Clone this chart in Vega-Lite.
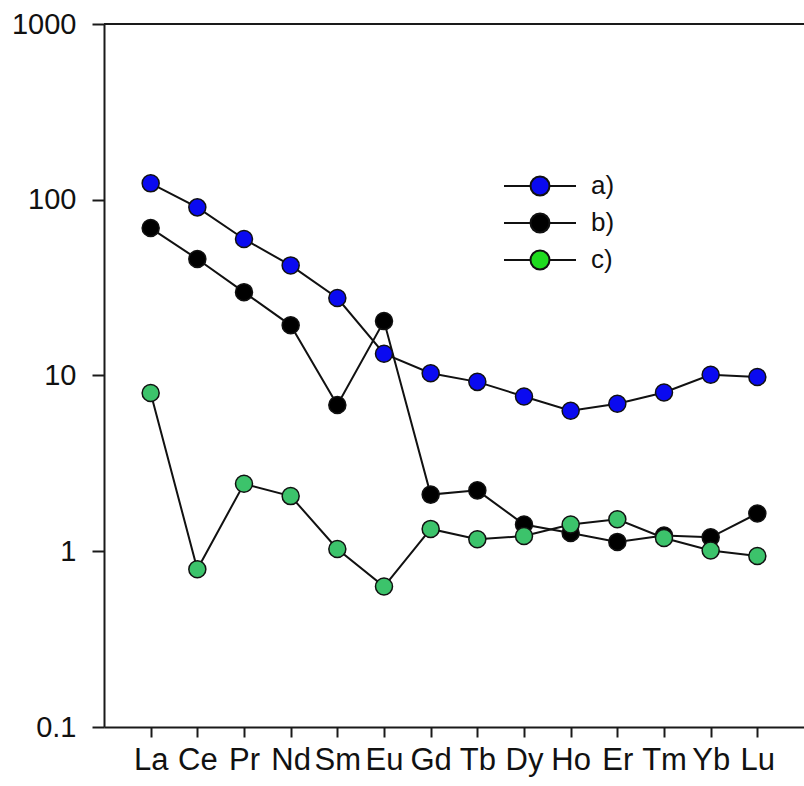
{
  "$schema": "https://vega.github.io/schema/vega-lite/v6.json",
  "width": 700,
  "height": 703,
  "autosize": {"type": "none"},
  "padding": {"left": 104, "top": 24, "right": 0, "bottom": 59},
  "background": "white",
  "config": {
    "view": {"stroke": null},
    "font": "Liberation Sans",
    "axis": {"grid": false, "domainColor": "#1a1a1a", "domainWidth": 2, "tickColor": "#1a1a1a", "tickWidth": 2, "labelColor": "#111", "labelFont": "Liberation Sans", "title": null}
  },
  "data": {
    "values": [
      {"el": "La", "i": 0, "s": "a)", "v": 124},
      {"el": "Ce", "i": 1, "s": "a)", "v": 90.5},
      {"el": "Pr", "i": 2, "s": "a)", "v": 59.8},
      {"el": "Nd", "i": 3, "s": "a)", "v": 42.3},
      {"el": "Sm", "i": 4, "s": "a)", "v": 27.6},
      {"el": "Eu", "i": 5, "s": "a)", "v": 13.3},
      {"el": "Gd", "i": 6, "s": "a)", "v": 10.3},
      {"el": "Tb", "i": 7, "s": "a)", "v": 9.2},
      {"el": "Dy", "i": 8, "s": "a)", "v": 7.6},
      {"el": "Ho", "i": 9, "s": "a)", "v": 6.3},
      {"el": "Er", "i": 10, "s": "a)", "v": 6.9},
      {"el": "Tm", "i": 11, "s": "a)", "v": 8.0},
      {"el": "Yb", "i": 12, "s": "a)", "v": 10.1},
      {"el": "Lu", "i": 13, "s": "a)", "v": 9.8},
      {"el": "La", "i": 0, "s": "b)", "v": 69},
      {"el": "Ce", "i": 1, "s": "b)", "v": 46},
      {"el": "Pr", "i": 2, "s": "b)", "v": 29.8},
      {"el": "Nd", "i": 3, "s": "b)", "v": 19.3},
      {"el": "Sm", "i": 4, "s": "b)", "v": 6.8},
      {"el": "Eu", "i": 5, "s": "b)", "v": 20.4},
      {"el": "Gd", "i": 6, "s": "b)", "v": 2.1},
      {"el": "Tb", "i": 7, "s": "b)", "v": 2.22},
      {"el": "Dy", "i": 8, "s": "b)", "v": 1.42},
      {"el": "Ho", "i": 9, "s": "b)", "v": 1.27},
      {"el": "Er", "i": 10, "s": "b)", "v": 1.13},
      {"el": "Tm", "i": 11, "s": "b)", "v": 1.23},
      {"el": "Yb", "i": 12, "s": "b)", "v": 1.2},
      {"el": "Lu", "i": 13, "s": "b)", "v": 1.64},
      {"el": "La", "i": 0, "s": "c)", "v": 7.95},
      {"el": "Ce", "i": 1, "s": "c)", "v": 0.79},
      {"el": "Pr", "i": 2, "s": "c)", "v": 2.42},
      {"el": "Nd", "i": 3, "s": "c)", "v": 2.06},
      {"el": "Sm", "i": 4, "s": "c)", "v": 1.03},
      {"el": "Eu", "i": 5, "s": "c)", "v": 0.63},
      {"el": "Gd", "i": 6, "s": "c)", "v": 1.34},
      {"el": "Tb", "i": 7, "s": "c)", "v": 1.17},
      {"el": "Dy", "i": 8, "s": "c)", "v": 1.22},
      {"el": "Ho", "i": 9, "s": "c)", "v": 1.42},
      {"el": "Er", "i": 10, "s": "c)", "v": 1.52},
      {"el": "Tm", "i": 11, "s": "c)", "v": 1.19},
      {"el": "Yb", "i": 12, "s": "c)", "v": 1.01},
      {"el": "Lu", "i": 13, "s": "c)", "v": 0.94}
    ]
  },
  "encoding": {
    "x": {
      "field": "el", "type": "nominal",
      "sort": ["La","Ce","Pr","Nd","Sm","Eu","Gd","Tb","Dy","Ho","Er","Tm","Yb","Lu"],
      "scale": {"type": "point", "padding": 1},
      "axis": {"labelAngle": 0, "tickSize": 10, "labelPadding": 8, "labelFontSize": 31}
    },
    "y": {
      "field": "v", "type": "quantitative",
      "scale": {"type": "log", "domain": [0.1, 1000], "nice": false},
      "axis": {"values": [0.1, 1, 10, 100, 1000], "format": "~g", "tickSize": 12, "labelPadding": 16, "labelFontSize": 29}
    }
  },
  "resolve": {"scale": {"fill": "independent"}, "legend": {"fill": "independent"}},
  "layer": [
    {
      "mark": {"type": "rule", "color": "#1a1a1a", "strokeWidth": 2},
      "encoding": {"y": {"datum": 1000}, "x": null}
    },
    {
      "mark": {"type": "line", "color": "#111", "strokeWidth": 2},
      "encoding": {
        "detail": {"field": "s"},
        "order": {"field": "i"}
      }
    },
    {
      "mark": {"type": "point", "filled": true, "size": 290, "stroke": "#111", "strokeWidth": 1.5, "opacity": 1},
      "encoding": {
        "fill": {
          "field": "s", "type": "nominal",
          "scale": {"domain": ["a)", "b)", "c)"], "range": ["#0a0af0", "#000000", "#3cc36b"]},
          "legend": null
        },
        "order": {"field": "s", "sort": "ascending"}
      }
    },
    {
      "mark": {"type": "point", "filled": true, "size": 400, "opacity": 0, "stroke": "#111", "strokeWidth": 2,
        "shape": "M -3.6 0 L -0.95 0 M 0.95 0 L 3.6 0 M 0.95 0 A 0.95 0.95 0 1 1 -0.95 0 A 0.95 0.95 0 1 1 0.95 0 Z"},
      "encoding": {
        "fill": {
          "field": "s", "type": "nominal",
          "scale": {"domain": ["a)", "b)", "c)"], "range": ["#0a0af0", "#000000", "#1fdc1f"]},
          "legend": {
            "orient": "none", "legendX": 423, "legendY": 149,
            "title": null, "padding": 0,
            "symbolSize": 400,
            "symbolStrokeColor": "#111",
            "symbolStrokeWidth": 2,
            "symbolOpacity": 1,
            "labelFontSize": 26,
            "labelColor": "#111",
            "labelFont": "Liberation Sans",
            "labelOffset": 38,
            "rowPadding": 9,
            "labelLimit": 200
          }
        }
      }
    }
  ]
}
